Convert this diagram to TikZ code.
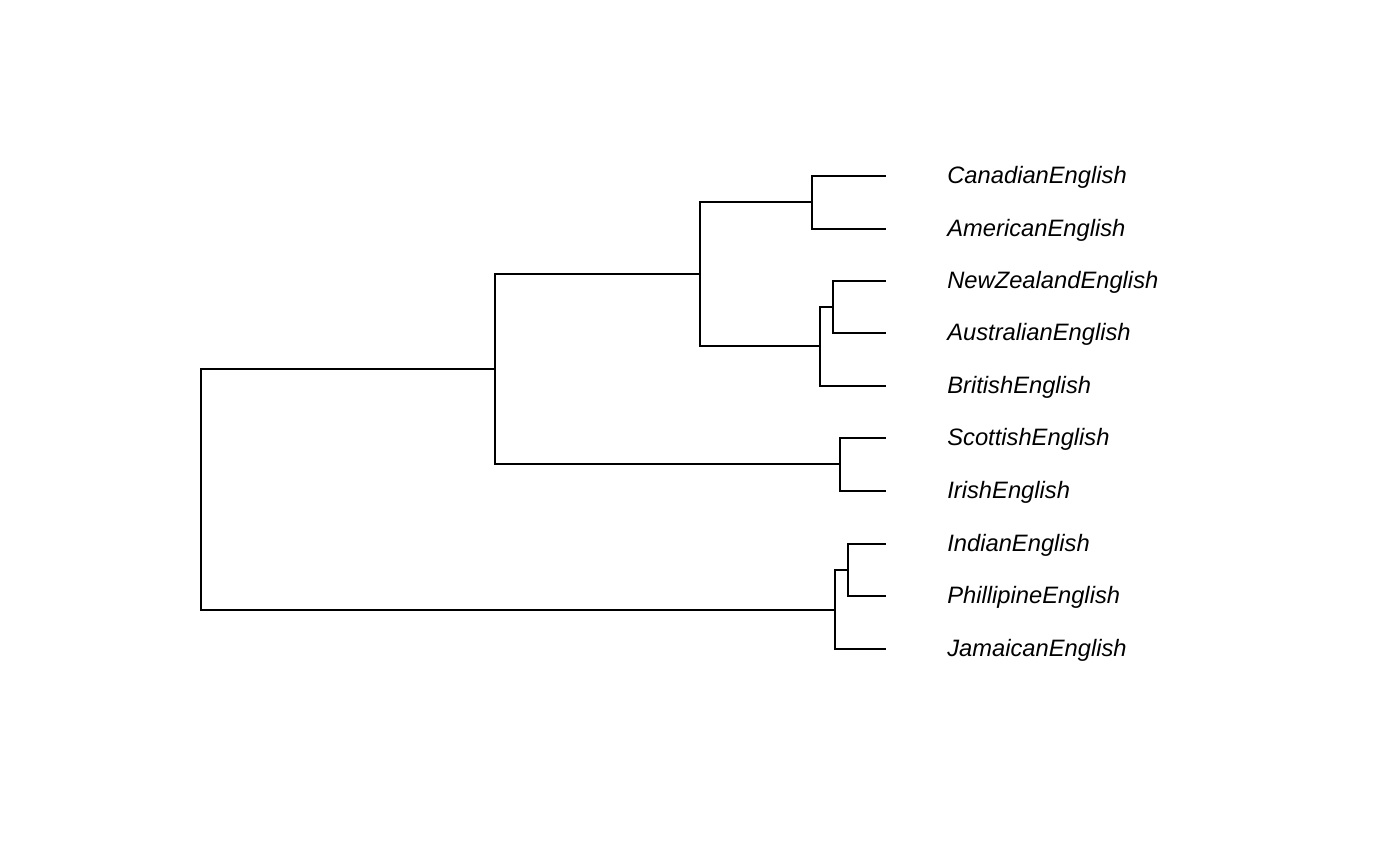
\documentclass[tikz,border=0pt]{standalone}
\usepackage{fontspec}
\setmainfont{Liberation Sans}
\usepackage{tikz}
\usetikzlibrary{
    calc,                   % Calculating midpoints.
    positioning             % Relative positioning of nodes.
}

\tikzset{
    branch/.style={line width=0.4mm, line cap=rect},
    leaflabel/.style={inner sep=0pt, yshift=-0.03cm, font=\fontsize{13.5}{16}\selectfont\itshape}
}

\begin{document}
\begin{tikzpicture}[x=1cm, y=1cm]
                \useasboundingbox (0,0) rectangle (28,-17.3);
                % leaves
                \coordinate (can) at (17.7,-3.52);
                \coordinate (ame) at (17.7,-4.58);
                \coordinate (nze) at (17.7,-5.62);
                \coordinate (aus) at (17.7,-6.66);
                \coordinate (bri) at (17.7,-7.72);
                \coordinate (sco) at (17.7,-8.76);
                \coordinate (iri) at (17.7,-9.82);
                \coordinate (ind) at (17.7,-10.88);
                \coordinate (phi) at (17.7,-11.92);
                \coordinate (jam) at (17.7,-12.98);
                % merges
                \coordinate (canAme) at (16.24,-4.05);
                \coordinate (nzeAus) at (16.66,-6.14);
                \coordinate (nzeAusBri) at (16.40,-6.93);
                \coordinate (northGroup) at (14.00,-5.49);
                \coordinate (scoIri) at (16.80,-9.29);
                \coordinate (britIsles) at (9.90,-7.39);
                \coordinate (indPhi) at (16.96,-11.40);
                \coordinate (indPhiJam) at (16.70,-12.19);
                \coordinate (root) at (4.02,-9.79);
                \draw[branch] (can) -| (canAme) |- (ame);
                \draw[branch] (nze) -| (nzeAus) |- (aus);
                \draw[branch] (nzeAus) -| (nzeAusBri) |- (bri);
                \draw[branch] (canAme) -| (northGroup) |- (nzeAusBri);
                \draw[branch] (sco) -| (scoIri) |- (iri);
                \draw[branch] (northGroup) -| (britIsles) |- (scoIri);
                \draw[branch] (ind) -| (indPhi) |- (phi);
                \draw[branch] (indPhi) -| (indPhiJam) |- (jam);
                \draw[branch] (britIsles) -| (root) |- (indPhiJam);
                % labels
                \node[leaflabel, right=1.24cm of can] (canLabel) {CanadianEnglish};
                \node[leaflabel, right=1.24cm of ame] (ameLabel) {AmericanEnglish};
                \node[leaflabel, right=1.24cm of nze] (nzeLabel) {NewZealandEnglish};
                \node[leaflabel, right=1.24cm of aus] (ausLabel) {AustralianEnglish};
                \node[leaflabel, right=1.24cm of bri] (briLabel) {BritishEnglish};
                \node[leaflabel, right=1.24cm of sco] (scoLabel) {ScottishEnglish};
                \node[leaflabel, right=1.24cm of iri] (iriLabel) {IrishEnglish};
                \node[leaflabel, right=1.24cm of ind] (indLabel) {IndianEnglish};
                \node[leaflabel, right=1.24cm of phi] (phiLabel) {PhillipineEnglish};
                \node[leaflabel, right=1.24cm of jam] (jamLabel) {JamaicanEnglish};
\end{tikzpicture}
\end{document}
